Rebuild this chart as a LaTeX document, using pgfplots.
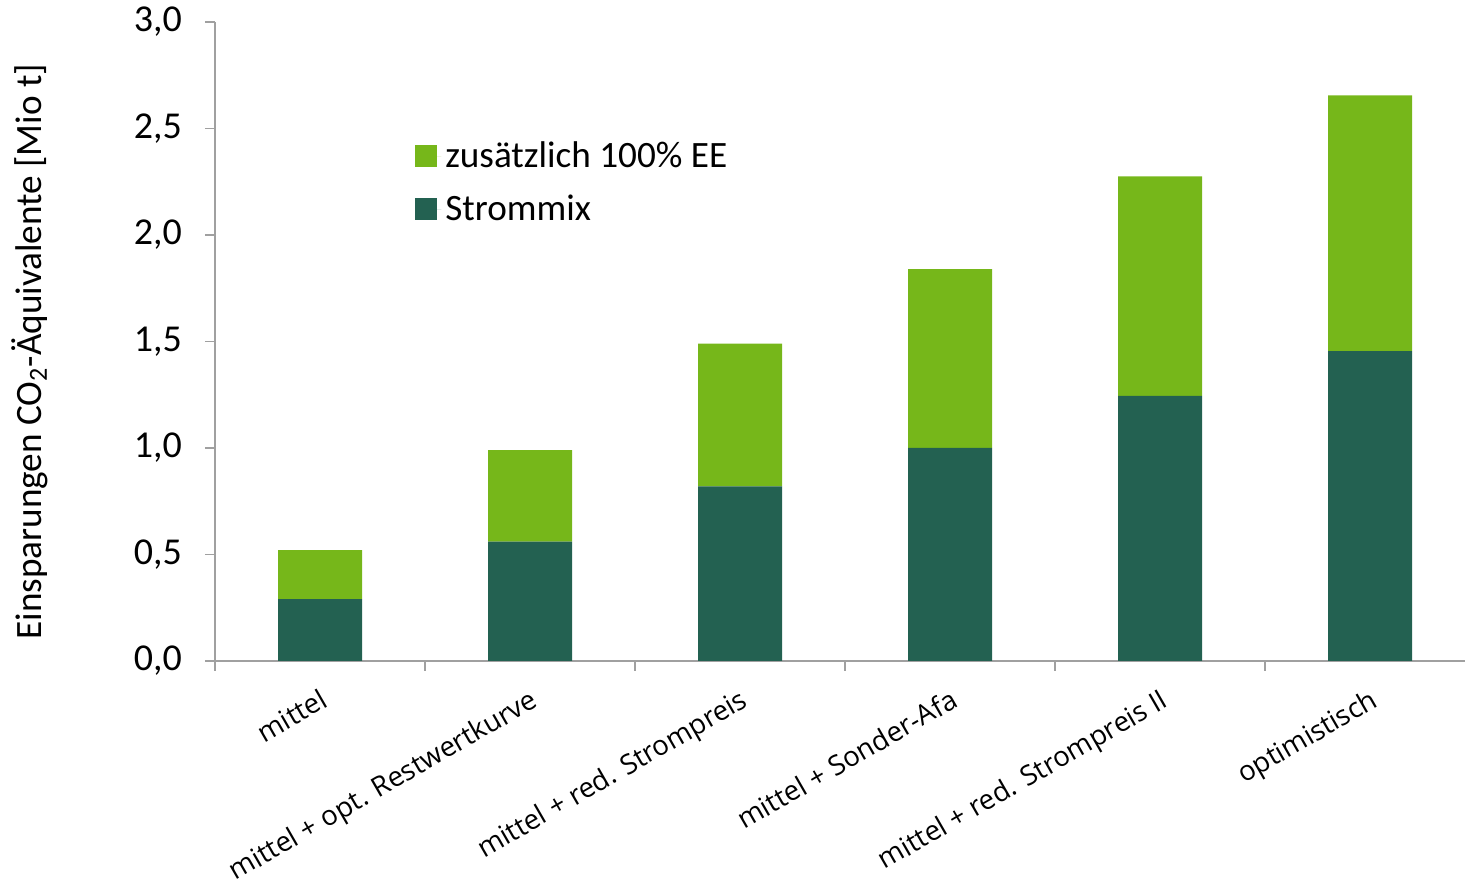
\documentclass[border=0pt]{standalone}
\usepackage{pgfplots}
\pgfplotsset{compat=1.18}
\usepackage{fontspec}
\setmainfont{Carlito}
\newfontfamily\labfont{Open Sans}
\definecolor{dk}{HTML}{236151}
\definecolor{lt}{HTML}{76B71A}
\definecolor{axc}{HTML}{A0A0A0}
\begin{document}
\begin{tikzpicture}
\begin{axis}[name=ax, scale only axis, width=625pt, height=319.5pt,
  ybar stacked, bar width=0.4,
  xmin=-0.5, xmax=5.452, ymin=0, ymax=3,
  axis lines=left, axis line style={-, draw=axc, line width=0.8pt},
  tick style={draw=axc, line width=0.8pt},
  tick align=outside,
  xtick={0,...,5},
  xticklabels={mittel, mittel + opt. Restwertkurve, mittel + red. Strompreis, mittel + Sonder-Afa, mittel + red. Strompreis II, optimistisch},
  major x tick style={draw=none},
  minor xtick={-0.5,0.5,1.5,2.5,3.5,4.5},
  minor tick length=5pt, major tick length=5pt,
  ytick={0,0.5,...,3},
  /pgf/number format/.cd, fixed, fixed zerofill, precision=1, use comma, assume math mode=true, /pgfplots/.cd,
  yticklabel style={font=\fontsize{19}{22}\selectfont, xshift=-8pt},
  xticklabel style={font=\labfont\fontsize{13.8}{16}\selectfont, xshift=-0.5pt, yshift=-8pt, rotate=30, anchor=north east, inner sep=0pt},
  ylabel={Einsparungen CO\textsubscript{2}-Äquivalente [Mio t]},
  ylabel style={font=\fontsize{18.6}{22}\selectfont, at={(axis description cs:-0.148,0.484)}, anchor=center},
  legend style={at={(axis description cs:0.16,0.819)}, anchor=north west, draw=none, fill=none,
    font=\fontsize{18.6}{22}\selectfont, row sep=8pt, inner sep=0pt,
    legend cell align=left},
  legend image code/.code={\fill[#1] (0pt,-5.5pt) rectangle (11pt,5.5pt); \path (0pt,0pt) -- (13pt,0pt);},
  reverse legend,
  clip=false,
]
\addplot[fill=dk, draw=none] coordinates {(0,0.29) (1,0.56) (2,0.82) (3,1.00) (4,1.245) (5,1.455)};
\addplot[fill=lt, draw=none] coordinates {(0,0.23) (1,0.43) (2,0.67) (3,0.84) (4,1.03) (5,1.20)};
\legend{Strommix, zusätzlich 100\% EE}
\end{axis}
\pgfresetboundingbox
\useasboundingbox ([xshift=-107.5pt,yshift=-112.5pt]ax.south west) rectangle ([xshift=0.5pt,yshift=11pt]ax.north east);
\end{tikzpicture}
\end{document}
